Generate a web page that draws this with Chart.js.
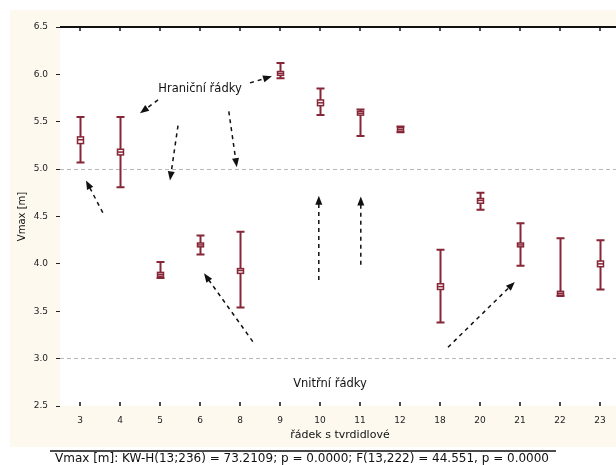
<!DOCTYPE html>
<html>
<head>
<meta charset="utf-8">
<script src="https://cdn.jsdelivr.net/npm/chart.js@4/dist/chart.umd.min.js"></script>
<style>
  html, body { margin: 0; padding: 0; background: #fff; overflow: hidden; }
  #wrap { position: absolute; left: 0; top: 0; width: 630px; height: 465px; }
</style>
</head>
<body>
<div id="wrap"><canvas id="chart" width="630" height="465"></canvas></div>
<script>
// ---- Data ----
const rows = ["3", "4", "5", "6", "8", "9", "10", "11", "12", "18", "20", "21", "22", "23"];
const maxV = [5.55, 5.55, 4.02, 4.30, 4.34, 6.12, 5.85, 5.63, 5.45, 4.15, 4.75, 4.43, 4.27, 4.25];
const q3V  = [5.34, 5.21, 3.91, 4.22, 3.95, 6.03, 5.73, 5.61, 5.44, 3.79, 4.69, 4.22, 3.71, 4.03];
const medV = [5.31, 5.18, 3.89, 4.20, 3.93, 6.01, 5.70, 5.59, 5.42, 3.76, 4.67, 4.20, 3.69, 4.00];
const q1V  = [5.27, 5.15, 3.87, 4.18, 3.90, 5.99, 5.67, 5.57, 5.40, 3.73, 4.64, 4.18, 3.67, 3.97];
const minV = [5.07, 4.81, 3.85, 4.10, 3.54, 5.96, 5.57, 5.35, 5.39, 3.38, 4.57, 3.98, 3.66, 3.73];

const yTicks = [2.5, 3.0, 3.5, 4.0, 4.5, 5.0, 5.5, 6.0, 6.5];
const dashedGrid = [3.0, 5.0];

// annotations in data units: [fromIndex, fromValue, toIndex, toValue]
const edgeLabel = { text: "Hraniční řádky", i: 3.0, v: 5.85 };
const innerLabel = { text: "Vnitřní řádky", i: 6.25, v: 2.73 };
const arrows = [
  [1.95, 5.73, 1.5, 5.59],
  [2.45, 5.46, 2.25, 4.88],
  [3.72, 5.61, 3.92, 5.02],
  [4.25, 5.91, 4.8, 5.98],
  [0.57, 4.54, 0.15, 4.88],
  [4.32, 3.18, 3.1, 3.90],
  [5.97, 3.83, 5.97, 4.72],
  [7.02, 3.99, 7.02, 4.71],
  [9.2, 3.12, 10.87, 3.81]
];
const statsText = "Vmax [m]: KW-H(13;236) = 73.2109; p = 0.0000; F(13,222) = 44.551, p = 0.0000";

const RED = "#862636";
const CREAM = "#fdf9ef";
const FONT = "'DejaVu Sans', sans-serif";

// ---- Plugins ----
const background = {
  id: "background",
  beforeDraw(chart) {
    const { ctx, chartArea: a } = chart;
    ctx.save();
    ctx.fillStyle = CREAM;
    ctx.fillRect(10, 10, chart.width - 10, 437);
    ctx.fillStyle = "#fff";
    ctx.fillRect(a.left, a.top, a.right - a.left, a.bottom - a.top);
    ctx.restore();
  }
};

const boxes = {
  id: "boxes",
  afterDatasetsDraw(chart) {
    const { ctx, chartArea: a } = chart;
    const x = chart.scales.x, y = chart.scales.y;
    ctx.save();
    // frame: top line + tick marks
    ctx.strokeStyle = "#111";
    ctx.lineWidth = 2;
    ctx.beginPath();
    ctx.moveTo(a.left, a.top);
    ctx.lineTo(a.right, a.top);
    ctx.stroke();
    ctx.lineWidth = 1.5;
    rows.forEach((r, i) => {
      const px = Math.round(x.getPixelForValue(i));
      ctx.beginPath();
      ctx.moveTo(px, a.top);
      ctx.lineTo(px, a.top + 4);
      ctx.moveTo(px, a.bottom);
      ctx.lineTo(px, a.bottom - 4);
      ctx.stroke();
    });

    // whiskers and boxes
    ctx.strokeStyle = RED;
    rows.forEach((r, i) => {
      const px = Math.round(x.getPixelForValue(i)) + 0.5;
      const yMax = y.getPixelForValue(maxV[i]);
      const yMin = y.getPixelForValue(minV[i]);
      const yQ3 = y.getPixelForValue(q3V[i]);
      const yQ1 = y.getPixelForValue(q1V[i]);
      const yMed = y.getPixelForValue(medV[i]);
      ctx.lineWidth = 2;
      ctx.beginPath();
      ctx.moveTo(px, yMax);
      ctx.lineTo(px, yQ3);
      ctx.moveTo(px, yQ1);
      ctx.lineTo(px, yMin);
      ctx.moveTo(px - 4, yMax);
      ctx.lineTo(px + 4, yMax);
      ctx.moveTo(px - 4, yMin);
      ctx.lineTo(px + 4, yMin);
      ctx.stroke();
      ctx.lineWidth = 1.5;
      ctx.strokeRect(px - 3, yQ3, 6, yQ1 - yQ3);
      ctx.beginPath();
      ctx.moveTo(px - 3, yMed);
      ctx.lineTo(px + 3, yMed);
      ctx.stroke();
    });

    // annotations
    ctx.strokeStyle = "#111";
    ctx.fillStyle = "#111";
    arrows.forEach(([i1, v1, i2, v2]) => {
      const x1 = x.getPixelForValue(i1), y1 = y.getPixelForValue(v1);
      const x2 = x.getPixelForValue(i2), y2 = y.getPixelForValue(v2);
      const ang = Math.atan2(y2 - y1, x2 - x1);
      ctx.lineWidth = 1.5;
      ctx.setLineDash([4, 4]);
      ctx.beginPath();
      ctx.moveTo(x1, y1);
      ctx.lineTo(x2 - 5 * Math.cos(ang), y2 - 5 * Math.sin(ang));
      ctx.stroke();
      ctx.setLineDash([]);
      ctx.beginPath();
      ctx.moveTo(x2, y2);
      ctx.lineTo(x2 - 9 * Math.cos(ang) + 3.5 * Math.sin(ang), y2 - 9 * Math.sin(ang) - 3.5 * Math.cos(ang));
      ctx.lineTo(x2 - 9 * Math.cos(ang) - 3.5 * Math.sin(ang), y2 - 9 * Math.sin(ang) + 3.5 * Math.cos(ang));
      ctx.closePath();
      ctx.fill();
    });
    ctx.font = "11.5px " + FONT;
    ctx.textAlign = "center";
    ctx.textBaseline = "middle";
    [edgeLabel, innerLabel].forEach(l => {
      ctx.fillText(l.text, x.getPixelForValue(l.i), y.getPixelForValue(l.v));
    });

    // stats footer
    ctx.lineWidth = 1.5;
    ctx.beginPath();
    ctx.moveTo(50, 451);
    ctx.lineTo(556, 451);
    ctx.stroke();
    ctx.font = "12px " + FONT;
    ctx.textAlign = "left";
    ctx.fillText(statsText, 55, 458.5);
    ctx.restore();
  }
};

// ---- Chart ----
const ctx = document.getElementById("chart").getContext("2d");

new Chart(ctx, {
  type: "line",
  data: {
    labels: rows,
    datasets: [{ data: medV, showLine: false, pointRadius: 0 }]
  },
  options: {
    responsive: false,
    animation: false,
    layout: { padding: { left: 8, top: 27, right: 10, bottom: 19 } },
    plugins: { legend: { display: false }, tooltip: { enabled: false } },
    scales: {
      x: {
        type: "category",
        offset: true,
        grid: { display: false, drawTicks: false },
        border: { display: false },
        ticks: { padding: 9, color: "#222", font: { size: 9, family: FONT } },
        title: { display: true, text: "řádek s tvrdidlové", color: "#111",
                 font: { size: 11, family: FONT }, padding: { top: 4, bottom: 4 } },
        afterFit(s) { s.height = 40; }
      },
      y: {
        min: 2.5,
        max: 6.5,
        afterBuildTicks(s) { s.ticks = yTicks.map(v => ({ value: v })); },
        grid: {
          color: c => dashedGrid.includes(c.tick && c.tick.value) ? "#b8b8b8" : "transparent",
          tickColor: "#222",
          tickLength: 4,
          lineWidth: 1
        },
        border: { display: false, dash: [4, 3] },
        ticks: { padding: 8, color: "#222", font: { size: 9, family: FONT },
                 callback: v => v.toFixed(1) },
        title: { display: true, text: "Vmax [m]", color: "#111",
                 font: { size: 10, family: FONT }, padding: { top: 8, bottom: 4 } },
        afterFit(s) { s.width = 52; }
      }
    }
  },
  plugins: [background, boxes]
});
</script>
</body>
</html>
